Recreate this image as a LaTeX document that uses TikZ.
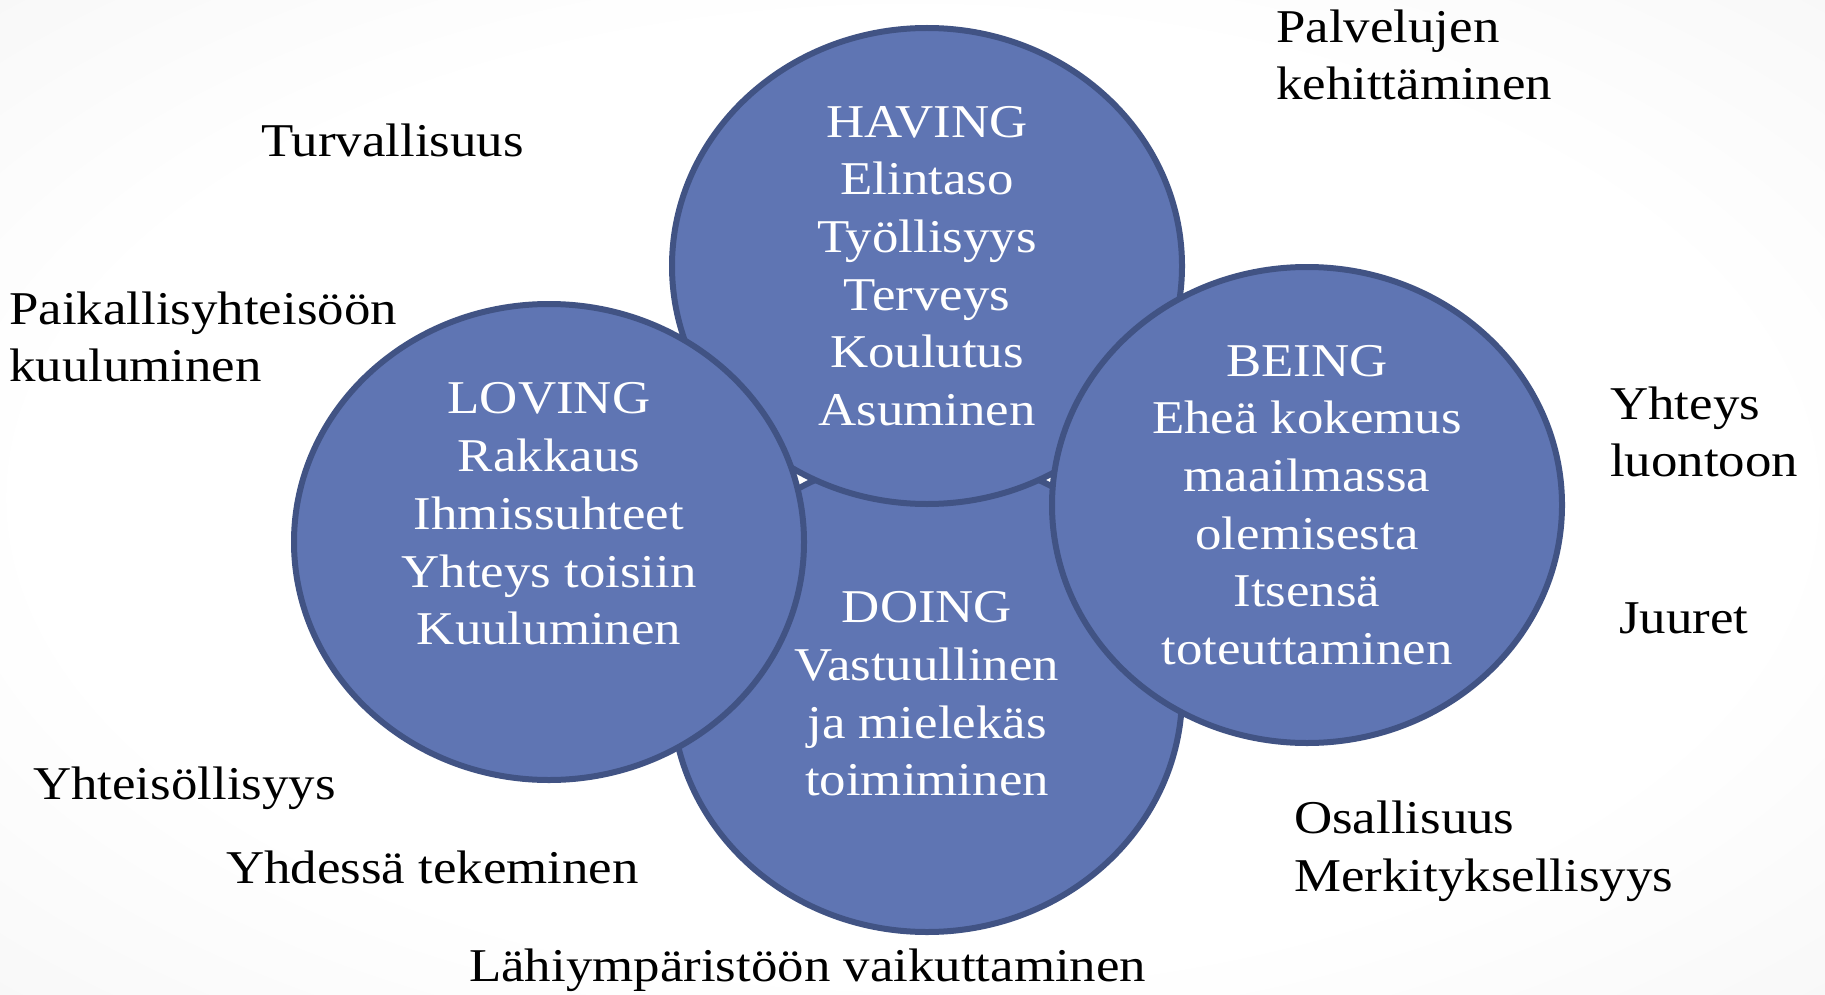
\documentclass[tikz,border=0pt]{standalone}
\usepackage{fontspec}
\setmainfont{Liberation Serif}[FakeStretch=1.125]
\usetikzlibrary{shapes.geometric}
\definecolor{domainFill}{RGB}{95,117,179}
\definecolor{domainEdge}{RGB}{65,83,132}
\newcommand{\qolFont}{\fontsize{47}{57.7}\selectfont}
\pgfdeclareradialshading{slideGlow}{\pgfpoint{0bp}{0bp}}{color(0bp)=(white); color(24bp)=(white); color(71bp)=(black!11)}

\begin{document}
\begin{tikzpicture}[x=1pt,y=-1pt,
  qolcircle/.style={ellipse, draw=domainEdge, fill=domainFill, line width=6pt, inner sep=0pt, minimum width=510pt, minimum height=476pt},
  inside/.style={align=center, text=white, font=\qolFont, inner sep=0pt},
  outside/.style={align=left, text=black, font=\qolFont, inner sep=0pt}]
\useasboundingbox (0,0) rectangle (1825,995);
\shade[shading=slideGlow] (0,0) rectangle (1825,995);
\node[qolcircle] (doing) at (927,694) {};
\node[qolcircle] (having) at (927,266) {};
\node[qolcircle] (loving) at (549,542) {};
\node[qolcircle] (being) at (1307,505) {};
\node[inside] (havingText) at (having) {HAVING\\Elintaso\\Työllisyys\\Terveys\\Koulutus\\Asuminen};
\node[inside] (lovingText) at (549,514) {LOVING\\Rakkaus\\Ihmissuhteet\\Yhteys toisiin\\Kuuluminen};
\node[inside] (doingText) at (doing) {DOING\\Vastuullinen\\ja mielekäs\\toimiminen};
\node[inside] (beingText) at (being) {BEING\\Eheä kokemus\\maailmassa\\olemisesta\\Itsensä\\toteuttaminen};
\node[outside, anchor=west] (services) at (1276,55) {Palvelujen\\kehittäminen};
\node[outside, anchor=base west] (safety) at (261,157) {Turvallisuus};
\node[outside, anchor=west] (community) at (9,337) {Paikallisyhteisöön\\kuuluminen};
\node[outside, anchor=west] (nature) at (1610,432) {Yhteys\\luontoon};
\node[outside, anchor=base west] (roots) at (1619,633) {Juuret};
\node[outside, anchor=base west] (togetherness) at (33,799) {Yhteisöllisyys};
\node[outside, anchor=base west] (doingTogether) at (226,883) {Yhdessä tekeminen};
\node[outside, anchor=west] (participation) at (1294,851) {Osallisuus\\Merkityksellisyys};
\node[outside, anchor=base west] (surroundings) at (469,981) {Lähiympäristöön vaikuttaminen};
\end{tikzpicture}
\end{document}
